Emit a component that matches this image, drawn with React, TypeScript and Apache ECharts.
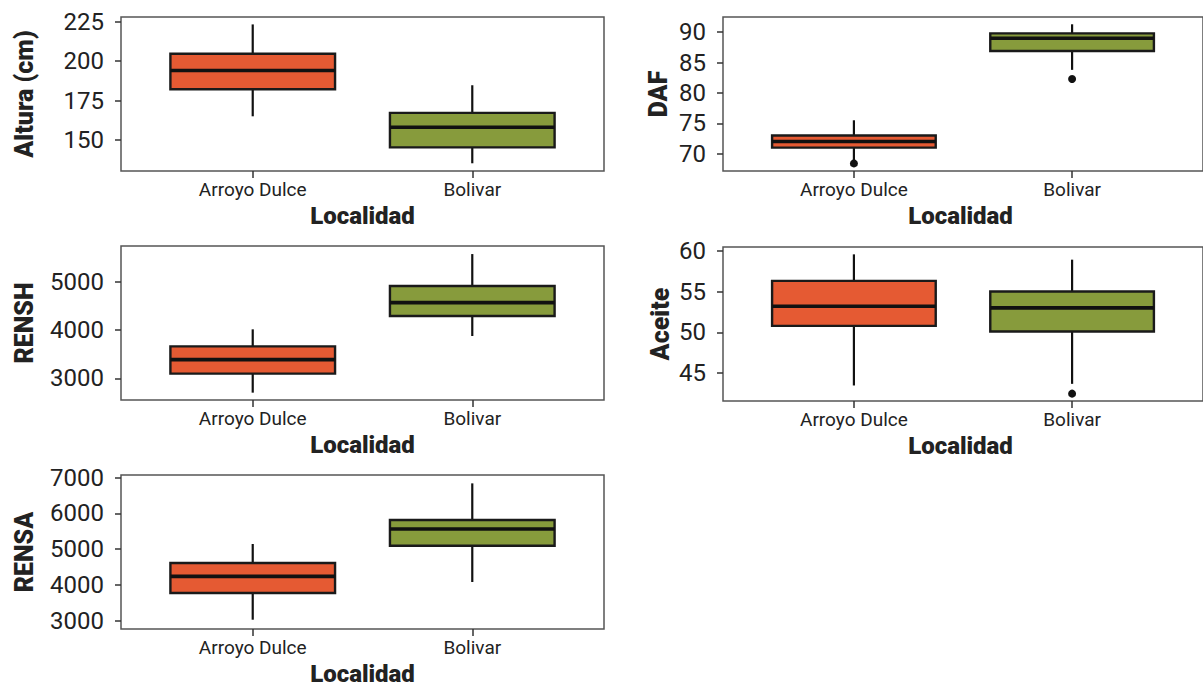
import React, { useEffect, useRef } from "react";
import * as echarts from "echarts";

const CATEGORIES = ["Arroyo Dulce", "Bolivar"];
const COLORS = ["#E55A33", "#879B3C"];

// [low whisker, Q1, median, Q3, high whisker]
const ALTURA_ARROYO = [165.0, 182.2, 194.1, 204.7, 223.3];
const ALTURA_BOLIVAR = [135.2, 145.3, 158.1, 167.2, 184.7];
const ALTURA_OUTLIERS: number[][] = [];
const ALTURA_TICKS = [150, 175, 200, 225];

const DAF_ARROYO = [68.9, 71.0, 72.0, 73.0, 75.5];
const DAF_BOLIVAR = [83.8, 86.9, 89.0, 89.8, 91.3];
const DAF_OUTLIERS = [[1, 68.4], [2, 82.3]];
const DAF_TICKS = [70, 75, 80, 85, 90];

const RENSH_ARROYO = [2703, 3097, 3386, 3662, 4014];
const RENSH_BOLIVAR = [3876, 4290, 4566, 4910, 5572];
const RENSH_OUTLIERS: number[][] = [];
const RENSH_TICKS = [3000, 4000, 5000];

const ACEITE_ARROYO = [43.5, 50.8, 53.2, 56.3, 59.55];
const ACEITE_BOLIVAR = [43.7, 50.1, 53.0, 55.0, 58.9];
const ACEITE_OUTLIERS = [[2, 42.5]];
const ACEITE_TICKS = [45, 50, 55, 60];

const RENSA_ARROYO = [3028, 3774, 4240, 4613, 5145];
const RENSA_BOLIVAR = [4082, 5098, 5564, 5816, 6841];
const RENSA_OUTLIERS: number[][] = [];
const RENSA_TICKS = [3000, 4000, 5000, 6000, 7000];

const BOX_W = 0.75;
const FONT = "Roboto";
const TEXT = "#222222";

type Panel = {
  name: string;
  arroyo: number[];
  bolivar: number[];
  outliers: number[][];
  ticks: number[];
  min: number;
  max: number;
  grid: { left: number; top: number; width: number; height: number };
  nameGap: number;
  xNamePad: number[];
};

const PANELS: Panel[] = [
  { name: "Altura (cm)", arroyo: ALTURA_ARROYO, bolivar: ALTURA_BOLIVAR, outliers: ALTURA_OUTLIERS, ticks: ALTURA_TICKS, min: 130.3, max: 228, grid: { left: 121, top: 17, width: 483, height: 154 }, nameGap: 84, xNamePad: [0, 0, 0, 0] },
  { name: "DAF", arroyo: DAF_ARROYO, bolivar: DAF_BOLIVAR, outliers: DAF_OUTLIERS, ticks: DAF_TICKS, min: 67.15, max: 92.5, grid: { left: 723, top: 17, width: 505, height: 154 }, nameGap: 52, xNamePad: [0, 5, 0, 0] },
  { name: "RENSH", arroyo: RENSH_ARROYO, bolivar: RENSH_BOLIVAR, outliers: RENSH_OUTLIERS, ticks: RENSH_TICKS, min: 2551, max: 5739, grid: { left: 121, top: 246, width: 483, height: 154 }, nameGap: 84, xNamePad: [0, 0, 0, 0] },
  { name: "Aceite", arroyo: ACEITE_ARROYO, bolivar: ACEITE_BOLIVAR, outliers: ACEITE_OUTLIERS, ticks: ACEITE_TICKS, min: 41.6, max: 60.45, grid: { left: 723, top: 247, width: 505, height: 154 }, nameGap: 50, xNamePad: [0, 5, 0, 0] },
  { name: "RENSA", arroyo: RENSA_ARROYO, bolivar: RENSA_BOLIVAR, outliers: RENSA_OUTLIERS, ticks: RENSA_TICKS, min: 2768, max: 7075, grid: { left: 121, top: 475, width: 483, height: 154 }, nameGap: 84, xNamePad: [0, 0, 0, 0] },
];

function buildOption() {
  const grids: any[] = [];
  const xAxes: any[] = [];
  const yAxes: any[] = [];
  const series: any[] = [];

  PANELS.forEach((p, i) => {
    grids.push({
      ...p.grid,
      show: true,
      borderColor: "#555555",
      borderWidth: 1.5,
      backgroundColor: "transparent",
      containLabel: false,
    });
    xAxes.push({
      type: "value",
      gridIndex: i,
      min: 0.4,
      max: 2.6,
      name: "Localidad",
      nameLocation: "middle",
      nameGap: 33,
      nameTextStyle: { fontFamily: FONT, fontSize: 24, fontWeight: 900, color: TEXT, padding: p.xNamePad },
      axisLine: { show: false },
      splitLine: { show: false },
      axisTick: { show: true, length: 7, customValues: [1, 2], lineStyle: { color: "#333333", width: 1.5 } },
      axisLabel: {
        customValues: [1, 2],
        margin: 9,
        fontFamily: FONT,
        fontSize: 19,
        color: TEXT,
        formatter: (v: number) => CATEGORIES[Math.round(v) - 1] ?? "",
      },
    });
    yAxes.push({
      type: "value",
      gridIndex: i,
      min: p.min,
      max: p.max,
      name: p.name,
      nameLocation: "middle",
      nameRotate: 90,
      nameGap: p.nameGap,
      nameTextStyle: { fontFamily: FONT, fontSize: 25, fontWeight: 900, color: TEXT },
      axisLine: { show: false },
      splitLine: { show: false },
      axisTick: { show: true, length: 6, customValues: p.ticks, lineStyle: { color: "#333333", width: 1.5 } },
      axisLabel: {
        customValues: p.ticks,
        margin: 17,
        fontFamily: FONT,
        fontSize: 24,
        color: TEXT,
        formatter: (v: number) => String(Math.round(v)),
      },
    });
    series.push({
      type: "custom",
      xAxisIndex: i,
      yAxisIndex: i,
      clip: false,
      encode: { x: 0, y: [1, 2, 3, 4, 5] },
      data: [
        [1, ...p.arroyo],
        [2, ...p.bolivar],
      ],
      renderItem: (params: any, api: any) => {
        const x = api.value(0);
        const lo = api.coord([x, api.value(1)]);
        const q1 = api.coord([x, api.value(2)]);
        const med = api.coord([x, api.value(3)]);
        const q3 = api.coord([x, api.value(4)]);
        const hi = api.coord([x, api.value(5)]);
        const half = api.size([BOX_W, 0])[0] / 2;
        const color = COLORS[params.dataIndex % COLORS.length];
        const wStyle = { stroke: "#111111", lineWidth: 2.2 };
        return {
          type: "group",
          children: [
            { type: "line", shape: { x1: hi[0], y1: hi[1], x2: q3[0], y2: q3[1] }, style: wStyle },
            { type: "line", shape: { x1: lo[0], y1: lo[1], x2: q1[0], y2: q1[1] }, style: wStyle },
            {
              type: "rect",
              shape: { x: q3[0] - half, y: q3[1], width: half * 2, height: q1[1] - q3[1] },
              style: { fill: color, stroke: "#1a1a1a", lineWidth: 2.4 },
            },
            { type: "line", shape: { x1: med[0] - half, y1: med[1], x2: med[0] + half, y2: med[1] }, style: { stroke: "#111111", lineWidth: 3.6 } },
          ],
        };
      },
    });
    if (p.outliers.length) {
      series.push({
        type: "scatter",
        xAxisIndex: i,
        yAxisIndex: i,
        symbol: "circle",
        symbolSize: 8,
        itemStyle: { color: "#111111", opacity: 1 },
        data: p.outliers,
        silent: true,
      });
    }
  });

  return {
    animation: false,
    backgroundColor: "#ffffff",
    grid: grids,
    xAxis: xAxes,
    yAxis: yAxes,
    series,
  };
}

export default function App() {
  const ref = useRef<HTMLDivElement>(null);
  useEffect(() => {
    if (!ref.current) return;
    const chart = echarts.init(ref.current, undefined, { renderer: "svg" });
    chart.setOption(buildOption() as any);
    return () => chart.dispose();
  }, []);
  return (
    <div
      ref={ref}
      style={{ position: "absolute", left: 0, top: 0, width: 1203, height: 688, background: "#fff" }}
    />
  );
}
